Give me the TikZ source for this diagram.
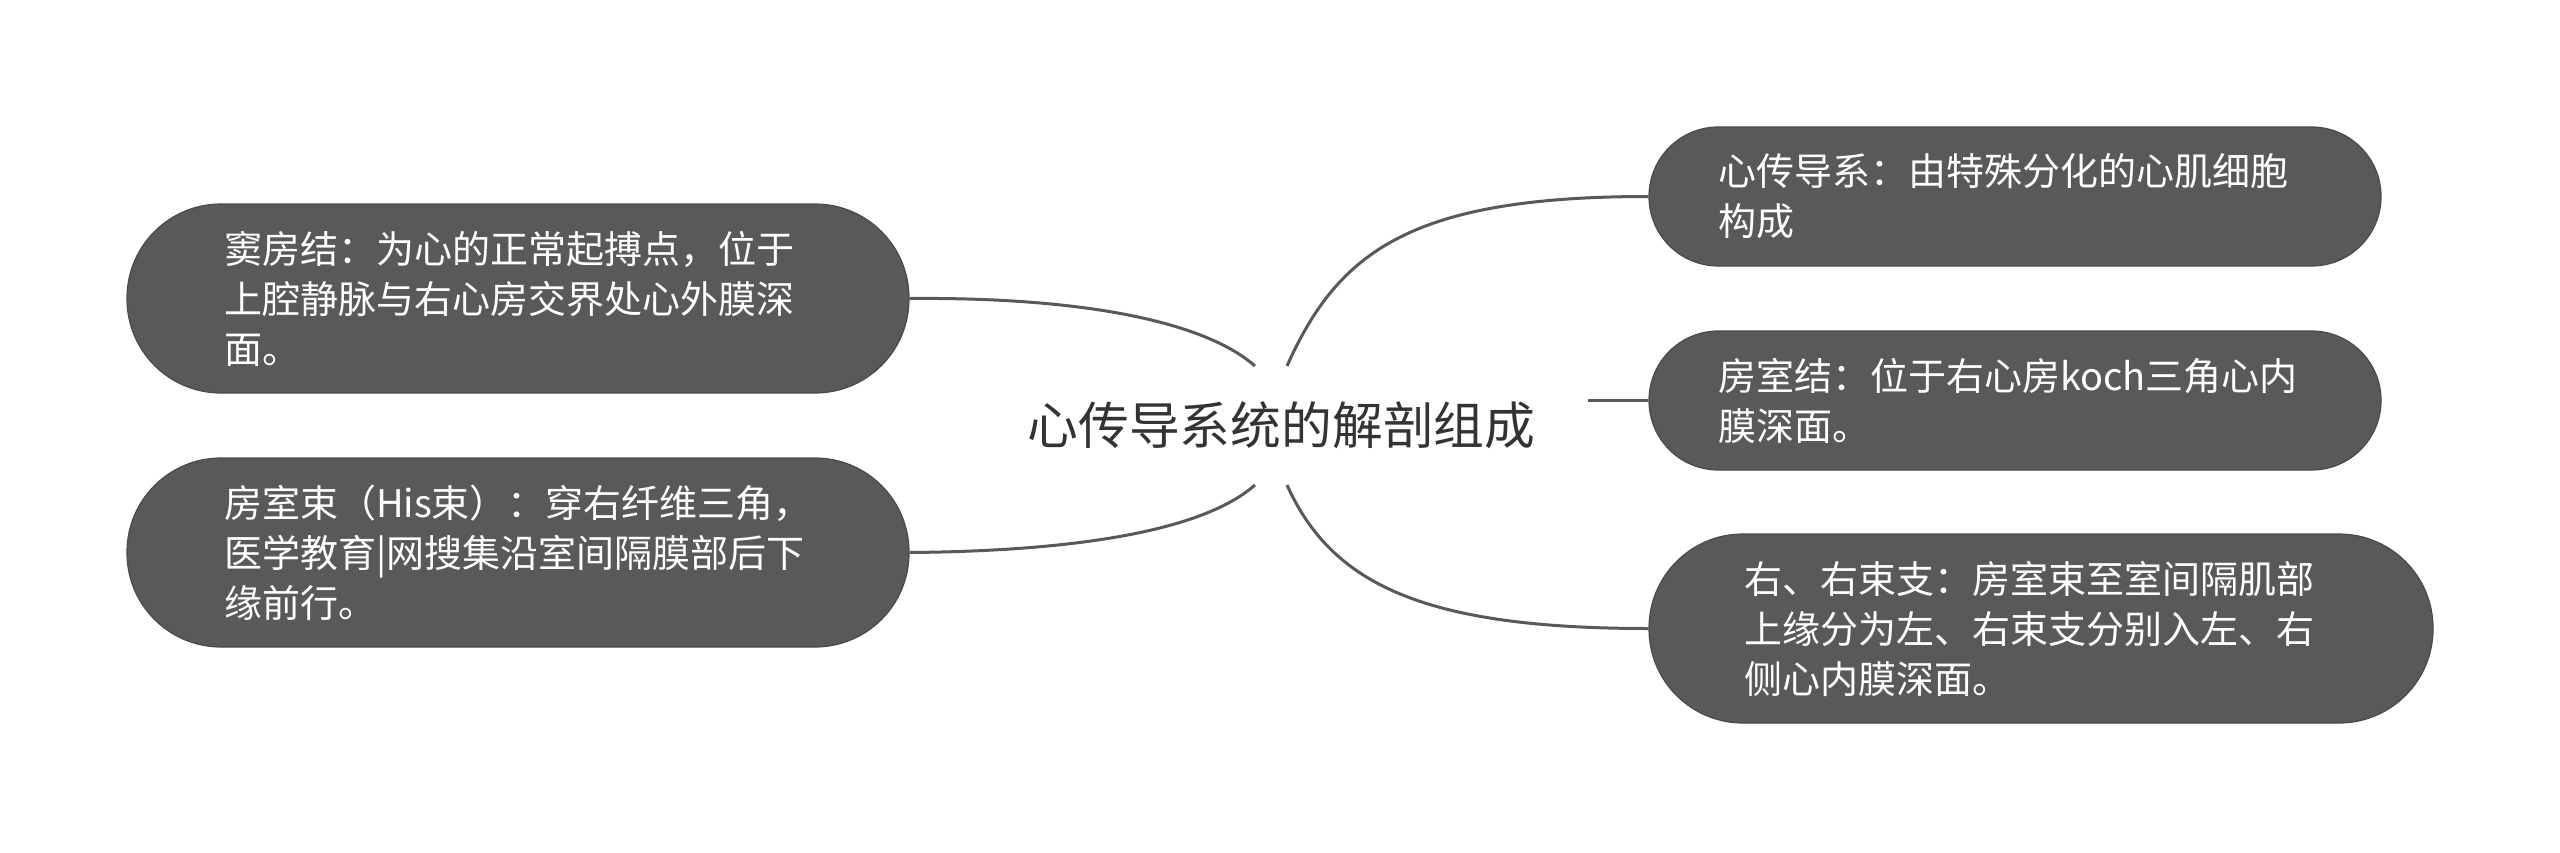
\documentclass[tikz,border=0pt]{standalone}
\usepackage{fontspec}
\setmainfont{Noto Sans CJK SC}
\definecolor{boxfill}{HTML}{595959}
\definecolor{boxline}{HTML}{4A4A4A}
\definecolor{linkc}{HTML}{595959}
\definecolor{titlec}{HTML}{333333}
\begin{document}
\begin{tikzpicture}[x=0.5pt,y=-0.5pt,
  leaf/.style={draw=boxline,line width=0.6pt,fill=boxfill,text=white,align=left,
    font=\fontsize{19pt}{25pt}\selectfont,inner ysep=0pt},
  bigleaf/.style={leaf,minimum width=391pt,minimum height=94.5pt,rounded corners=47pt,
    inner xsep=48.5pt,text width=294pt},
  smallleaf/.style={leaf,minimum width=366pt,minimum height=69.5pt,rounded corners=34.7pt,
    inner xsep=34.5pt,text width=297pt},
  wideleaf/.style={leaf,minimum width=392pt,minimum height=94.5pt,rounded corners=47pt,
    inner xsep=47.5pt,text width=297pt},
  link/.style={draw=linkc,line width=1.5pt}]
\useasboundingbox (0,0) rectangle (2560,852);
\fill[white] (0,0) rectangle (2560,852);

\node[text=titlec,font=\fontsize{25.4pt}{30pt}\selectfont,inner sep=0pt] (root) at (1281.5,425) {心传导系统的解剖组成};

\node[bigleaf] (l1) at (518,298.5) {窦房结：为心的正常起搏点，位于\\上腔静脉与右心房交界处心外膜深\\面。};
\node[bigleaf] (l2) at (518,552.5) {房室束（His束）：穿右纤维三角，\\医学教育|网搜集沿室间隔膜部后下\\缘前行。};

\node[smallleaf] (r1) at (2015,196.5) {心传导系：由特殊分化的心肌细胞\\构成};
\node[smallleaf] (r2) at (2015,400.5) {房室结：位于右心房koch三角心内\\膜深面。};
\node[wideleaf] (r3) at (2041,628.5) {右、右束支：房室束至室间隔肌部\\上缘分为左、右束支分别入左、右\\侧心内膜深面。};

\coordinate (plt) at (1255,366);
\coordinate (plb) at (1255,485);
\coordinate (prt) at (1287,366);
\coordinate (prm) at (1588,400.5);
\coordinate (prb) at (1287,485);

\draw[link] (plt) .. controls (1205,322) and (1085,297) .. (l1.east);
\draw[link] (plb) .. controls (1205,529) and (1085,551) .. (l2.east);
\draw[link] (prt) .. controls (1338,252) and (1410,196.5) .. (r1.west);
\draw[link] (prm) -- (r2.west);
\draw[link] (prb) .. controls (1332,585) and (1425,628.5) .. (r3.west);
\end{tikzpicture}
\end{document}
